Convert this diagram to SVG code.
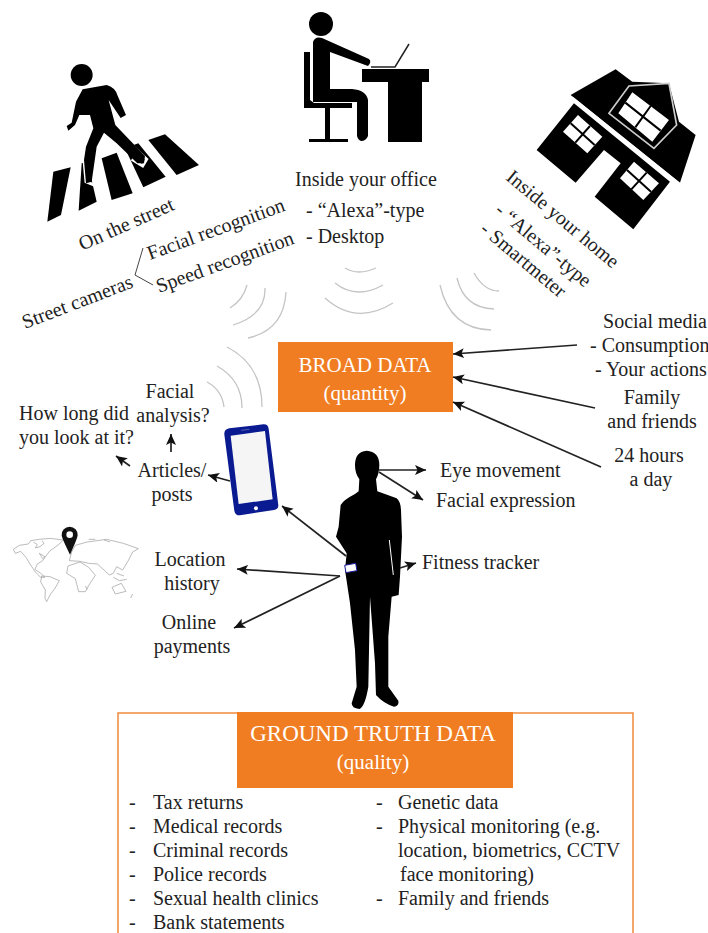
<svg xmlns="http://www.w3.org/2000/svg" width="708" height="933" viewBox="0 0 708 933">
<style>
text{font-family:"Liberation Serif","Times New Roman",serif;font-size:20px;fill:#222}
.m{text-anchor:middle}
.w{fill:#fff}
.k{fill:#000}
.wave{fill:none;stroke:#c4c4c4;stroke-width:1.3}
.c{fill:none;stroke:#222;stroke-width:1.7;marker-end:url(#a)}
.l{fill:none;stroke:#444;stroke-width:1}
.map{fill:none;stroke:#999;stroke-width:2}
</style>
<defs><marker id="a" markerWidth="14" markerHeight="12" refX="11" refY="5" orient="auto" markerUnits="userSpaceOnUse"><path d="M0 0L11 5L0 10L2.500 5Z" fill="#111"/></marker></defs>
<rect width="708" height="933" fill="#fff"/>

<g id="walker" transform="scale(.3333)">
<circle cx="245" cy="225" r="33" class="k"/>
<path class="k" d="M160 515L212 502L183 645L142 665Z"/>
<path class="k" d="M245 490L262 484L290 605L236 632Z"/>
<path class="k" d="M305 475L350 458L398 580L335 600Z"/>
<path class="k" d="M375 445L415 430L497 530L430 562Z"/>
<path class="k" d="M445 420L495 403L597 495L530 525Z"/>
<path fill="none" stroke="#fff" stroke-width="9" d="M252 480L258 545L285 556M400 440L440 478L428 498L395 478"/>
<path class="k" d="M248 268L320 255Q345 262 352 285L378 345L362 354L326 300L346 375L435 468L432 490L412 490L350 430L312 398L290 440L275 545L258 550L252 480L258 440L280 385L270 345L238 345L225 375L205 392L200 378L215 368L228 305Z"/>
</g>

<g id="office">
<circle cx="321" cy="24" r="12" class="k"/>
<path class="k" d="M304 52H310V100L314 103H352V108H304Z"/>
<path class="k" d="M313 42Q315 36 322 38L369 59Q372 62 368 66L330 52V89H352Q366 90 368 100V136Q366 141 361 141Q358 140 357 136V102H313Z"/>
<path class="k" d="M325 108H330V139H348V142H309V139H325Z"/>
<path class="k" d="M362 69H429V82H362ZM388 82H422V142H388Z"/>
<path fill="none" stroke="#222" stroke-width="1.500" d="M371 67H395L409 44"/>
</g>

<g id="house" transform="translate(354 0) scale(.3333)">
<path class="k" d="M650 285L785 208L835 245L945 250L975 365L1025 405L978 548Z"/>
<path class="k" d="M660 310L548 450L665 548L750 450L800 490L722 590L838 688L948 545Z"/>
<path fill="none" stroke="#fff" stroke-width="5" d="M655 292L978 552"/>
<path fill="none" stroke="#ccc" stroke-width="5" d="M765 340L825 258L945 250L968 375L900 445Z"/>
<path class="w" d="M835 277L945 360L895 425L793 340Z"/>
<path class="w" d="M672 345L745 410L700 460L627 395Z"/>
<path class="w" d="M840 485L915 550L868 600L798 535Z"/>
<path fill="none" stroke="#000" stroke-width="6" d="M814 308L920 392M890 318L844 382M650 370L722 435M708 378L664 428M819 510L891 575M878 518L832 568"/>
</g>

<g id="label-street">
<text class="m" transform="translate(129 230) rotate(-24)">On the street</text>
<text transform="translate(150 260) rotate(-20)">Facial recognition</text>
<text transform="translate(159 293) rotate(-20)">Speed recognition</text>
<text transform="translate(25 329) rotate(-21)">Street cameras</text>
<path class="l" d="M143 248L135 275L153 285"/>
</g>
<g id="label-office">
<text x="295" y="186">Inside your office</text>
<text x="306" y="217">- “Alexa”-type</text>
<text x="306" y="243">- Desktop</text>
</g>
<g id="label-home">
<text transform="translate(505 179) rotate(40)">Inside your home</text>
<text transform="translate(494 212) rotate(40)">- “Alexa”-type</text>
<text transform="translate(479 231) rotate(40)">- Smartmeter</text>
</g>

<g id="waves">
<path class="wave" d="M247 285Q243 300 230 308M265 288Q266 315 233 325M286 292Q284 330 248 338"/>
<path class="wave" d="M345 268Q358 276 376 268M335 283Q356 300 383 285M325 298Q356 326 393 303"/>
<path class="wave" d="M474 273Q484 291 499 291M457 278Q464 308 494 309M440 285Q450 329 491 330"/>
<path class="wave" d="M207 382Q222 390 224 407M217 366Q242 380 242 408M227 347Q262 365 262 407"/>
</g>

<g id="broad-data">
<rect x="278" y="342" width="175" height="70" fill="#f07d22"/>
<text class="m w" x="365" y="372" style="font-size:21px">BROAD DATA</text>
<text class="m w" x="365" y="400" style="font-size:21px">(quantity)</text>
</g>

<g id="labels-right">
<text class="m" x="655" y="328">Social media</text>
<text x="590" y="352">- Consumption</text>
<text x="595" y="376">- Your actions</text>
<text class="m" x="652" y="404">Family</text>
<text class="m" x="652" y="428">and friends</text>
<text class="m" x="649" y="462">24 hours</text>
<text class="m" x="651" y="486">a day</text>
</g>

<g id="phone" transform="translate(0 340) scale(.3333)">
<path fill="#0a1a90" d="M688 265L790 253Q804 252 806 266L835 495Q836 508 822 510L720 526Q706 527 703 512L673 283Q672 268 688 265Z"/>
<path fill="#f5f5f5" d="M692 287L795 273L818 478L716 492Z"/>
<circle cx="768" cy="505" r="6" fill="#fff"/>
<path stroke="#5560b0" stroke-width="3" d="M724 271L748 268"/>
</g>

<g id="labels-phone">
<text class="m" x="170" y="398">Facial</text>
<text class="m" x="173" y="422">analysis?</text>
<text x="19" y="420">How long did</text>
<text x="19" y="444">you look at it?</text>
<text class="m" x="172" y="477">Articles/</text>
<text class="m" x="172" y="501">posts</text>
<text class="m" x="190" y="566">Location</text>
<text class="m" x="192" y="590">history</text>
<text class="m" x="189" y="629">Online</text>
<text class="m" x="192" y="653">payments</text>
</g>

<g id="map" transform="translate(0 520) scale(.3333)">
<path class="map" d="M40 88L58 76L85 72L92 62L118 58L150 55L190 60L178 72L165 82L150 92L138 108L128 122L112 132L105 148L122 160L135 172L122 172L106 156L92 135L78 112L62 94L46 100Z"/>
<path class="map" d="M100 66L112 74L106 84L120 80L132 70L126 62M118 100L135 110L128 116Z"/>
<path class="map" d="M125 168L150 170L178 182L165 205L150 225L140 245L135 235L136 210L122 186Z"/>
<path class="map" d="M208 122L215 96L226 76L262 66L320 58L370 70L415 86L398 96L386 120L368 150L350 140L340 160L328 165L312 150L292 132L266 130L240 124Z"/>
<path class="map" d="M204 138L240 126L266 142L286 166L270 190L256 215L236 215L226 176L200 160Z"/>
<path class="map" d="M336 202L364 190L378 214L346 222Z"/>
<path class="map" d="M340 172L358 182L380 178M350 160L372 168M398 222L392 234M266 58L286 58M312 60L330 66M256 198L262 208"/>
<path d="M209 20a24 24 0 0 1 24 26Q232 56 210 104Q186 56 185 46a24 24 0 0 1 24-26Z" fill="#111"/><circle cx="209" cy="44" r="10" fill="#fff"/>
</g>

<g id="person" transform="translate(300 330) scale(.3333)">
<path class="k" d="M200 362Q238 365 238 405Q238 430 228 448L232 484L290 505Q302 515 303 540L306 620L300 740L296 795L275 800L265 920L265 1070L295 1112Q298 1128 282 1130Q250 1120 228 1095L225 1000L210 800L205 1070Q195 1130 178 1137Q155 1135 155 1120L170 1070L165 960L150 820L135 720L140 670L108 620L116 590L122 525Q130 510 165 492L176 484L178 448Q165 430 165 405Q165 365 200 362Z"/>
<path fill="#fff" stroke="#1a1a9a" stroke-width="3" d="M134 706L167 700L171 722L138 728Z"/>
<path fill="none" stroke="#fff" stroke-width="3" d="M268 630L280 735"/>
</g>

<g id="connectors">
<path class="c" d="M577 345L453 354"/>
<path class="c" d="M595 408L453 377"/>
<path class="c" d="M601 467L453 402"/>
<path class="c" d="M379 470H426"/>
<path class="c" d="M379 472L423 500"/>
<path class="c" d="M400 568L416 563"/>
<path class="c" d="M346 556L282 506"/>
<path class="c" d="M340 576L237 569"/>
<path class="c" d="M340 576L234 628"/>
<path class="c" d="M230 481L208 475"/>
<path class="c" d="M171 452V434"/>
<path class="c" d="M130 466L116 456"/>
</g>

<g id="labels-person">
<text x="440" y="477">Eye movement</text>
<text x="436" y="507">Facial expression</text>
<text x="422" y="569">Fitness tracker</text>
</g>

<g id="ground-truth">
<path fill="none" stroke="#f08a3c" stroke-width="1.500" d="M118 933V713H633V933"/>
<rect x="237" y="712" width="276" height="76" fill="#f07d22"/>
<text class="m w" x="373" y="741" style="font-size:23px">GROUND TRUTH DATA</text>
<text class="m w" x="373" y="769" style="font-size:21px">(quality)</text>
</g>

<g id="ground-list">
<text x="129" y="809">-</text><text x="153" y="809">Tax returns</text>
<text x="129" y="833">-</text><text x="153" y="833">Medical records</text>
<text x="129" y="857">-</text><text x="153" y="857">Criminal records</text>
<text x="129" y="881">-</text><text x="153" y="881">Police records</text>
<text x="129" y="905">-</text><text x="153" y="905">Sexual health clinics</text>
<text x="129" y="929">-</text><text x="153" y="929">Bank statements</text>
<text x="376" y="809">-</text><text x="398" y="809">Genetic data</text>
<text x="376" y="833">-</text><text x="398" y="833">Physical monitoring (e.g.</text>
<text x="398" y="857">location, biometrics, CCTV</text>
<text x="400" y="881">face monitoring)</text>
<text x="376" y="905">-</text><text x="398" y="905">Family and friends</text>
</g>
</svg>
